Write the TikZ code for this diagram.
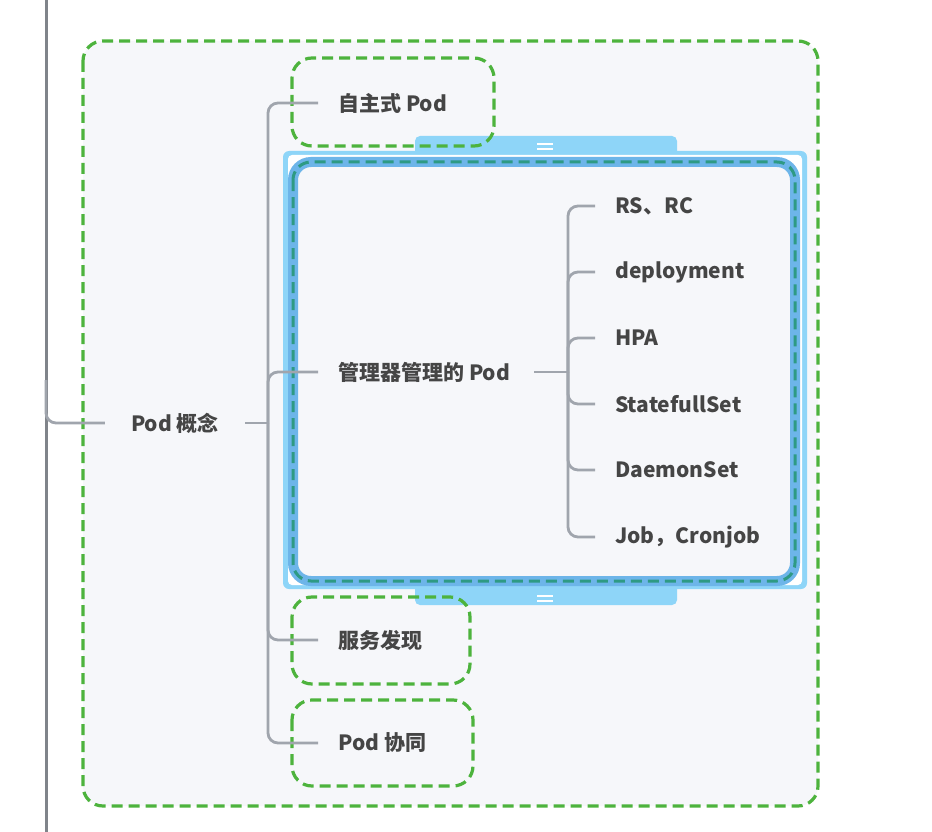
\documentclass[tikz,border=0pt]{standalone}
\usepackage{fontspec}
\setmainfont{Noto Sans CJK SC}
\usepackage{xcolor}
\usepackage{tikz}
\usetikzlibrary{positioning, calc}

\definecolor{boundgreen}{HTML}{4DB33D}
\definecolor{linegray}{HTML}{A0A5AD}
\definecolor{textgray}{HTML}{454545}
\definecolor{paper}{HTML}{F6F7FA}
\definecolor{selblue}{HTML}{8ED5F8}
\definecolor{bandblue}{HTML}{6DB5E9}
\definecolor{dashteal}{HTML}{2E9A84}

\begin{document}
\begin{tikzpicture}[x=1pt, y=-1pt, font=\fontsize{21}{25}\selectfont\bfseries]
        \tikzstyle{topic} = [text=textgray, inner xsep=20pt, inner ysep=4pt, anchor=west]
        \tikzstyle{branch} = [draw=linegray, line width=2.8pt, rounded corners=10pt]
        \tikzstyle{bound} = [draw=boundgreen, line width=3.2pt, dash pattern=on 11pt off 6pt, rounded corners=20pt]
        \tikzstyle{tab} = [fill=selblue, rounded corners=5pt]

        \useasboundingbox[fill=white] (0,0) rectangle (932,832);

        % outer boundary
        \draw[bound, fill=paper] (83,41) rectangle (818,806);
        \draw[draw=linegray!80!black, line width=3pt] (46,0) -- (46,832);

        % selection frame
        \fill[tab] (415,136) rectangle (677,160);
        \fill[tab] (415,580) rectangle (677,605);
        \fill[selblue, rounded corners=6pt] (283,151) rectangle (807,589);
        \fill[white, rounded corners=4pt] (288,155) rectangle (802,585);
        \draw[draw=bandblue, line width=10pt, fill=paper, rounded corners=18pt] (293,162) rectangle (795,581);
        \draw[draw=dashteal, line width=3pt, dash pattern=on 11pt off 6pt, rounded corners=18pt] (293,162) rectangle (795,581);
        \foreach \y in {144,149} {
            \draw[white, line width=2pt] (537,\y) -- (553,\y);
            \draw[white, line width=2pt] (537,\y+452) -- (553,\y+452);
        }

        % boundaries of the children
        \draw[bound] (292,58) rectangle (494,146);
        \draw[bound] (292,597) rectangle (470,684);
        \draw[bound] (292,700) rectangle (473,786);

        \node [text=textgray, minimum width=140pt] (pod) at (175,423) {Pod 概念};
        \node [topic] (self) at (318,103) {自主式 Pod};
        \node [topic] (mgr) at (318,372) {管理器管理的 Pod};
        \node [topic] (svc) at (318,640) {服务发现};
        \node [topic] (coop) at (318,743) {Pod 协同};

        \node [topic] (rs) at (595,206) {RS、RC};
        \node [topic] (deploy) at (595,272) {deployment};
        \node [topic] (hpa) at (595,338) {HPA};
        \node [topic] (sts) at (595,404) {StatefullSet};
        \node [topic] (ds) at (595,470) {DaemonSet};
        \node [topic] (job) at (595,537) {Job，Cronjob};

        \coordinate (podfork) at (268,423);
        \coordinate (mgrfork) at (568,372);

        \draw [branch] (46,380) |- (pod.west);
        \draw [branch] (pod.east) -- (podfork);
        \foreach \c in {self, mgr, svc, coop}
            \draw [branch] (podfork) |- (\c.west);
        \draw [branch] ([xshift=4pt]mgr.east) -- (mgrfork);
        \foreach \c in {rs, deploy, hpa, sts, ds, job}
            \draw [branch] (mgrfork) |- (\c.west);
\end{tikzpicture}
\end{document}
